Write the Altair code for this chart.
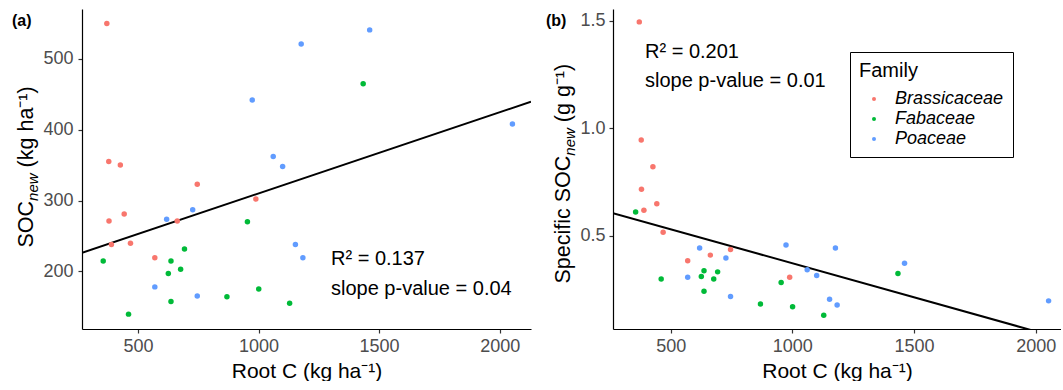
import altair as alt
import pandas as pd

# ---- data ----
family = (["Brassicaceae"] * 11) + (["Poaceae"] * 12) + (["Fabaceae"] * 12)
root_c = [371, 379, 427, 746, 989, 380, 443, 663, 469, 390, 570,
          1461, 1177, 974, 2053, 1061, 1100, 727, 619, 1153, 1184, 570, 746,
          1434, 954, 693, 356, 637, 677, 626, 1001, 869, 637, 1129, 461]
soc_new = [550, 355, 350, 323, 302, 271, 281, 271, 239.5, 238, 219,
           541, 521, 442, 408, 362, 348, 287, 273.5, 238, 219, 178, 165,
           465, 270, 231.5, 214.5, 214.5, 203, 197, 175, 164, 157.5, 155, 139.5]
specific_soc = [1.495, 0.945, 0.820, 0.435, 0.306, 0.716, 0.648, 0.409, 0.516, 0.618, 0.383,
                0.371, 0.442, 0.456, 0.196, 0.341, 0.314, 0.396, 0.442, 0.204, 0.177, 0.306, 0.216,
                0.323, 0.281, 0.331, 0.610, 0.336, 0.298, 0.309, 0.169, 0.181, 0.241, 0.129, 0.298]

# fitted lines (intercept, slope)
fit_a = [195.4, 0.1146]
fit_b = [0.688, -0.000317]

families = ["Brassicaceae", "Fabaceae", "Poaceae"]
palette = ["#F8766D", "#00BA38", "#619CFF"]
x_ticks = [500, 1000, 1500, 2000]
y_ticks_a = [200, 300, 400, 500]
y_ticks_b = [0.5, 1.0, 1.5]

df = pd.DataFrame({"Family": family, "RootC": root_c, "SOC": soc_new, "Spec": specific_soc})

FONT = "Liberation Sans"
W1, W2, H = 449, 448, 320
XDOM_A = [268, 2130]
XDOM_B = [263, 2104]
YDOM_A = [118.5, 570.5]
YDOM_B = [0.065, 1.555]
TS = 21.5   # axis-title font size
SS = 15     # subscript font size

color = alt.Color(
    "Family:N",
    scale=alt.Scale(domain=families, range=palette),
    legend=alt.Legend(
        orient="none", legendX=768, legendY=43,
        title="Family", titleFontSize=20, titleFont=FONT, titleFontWeight="normal",
        titleColor="black", titlePadding=9,
        labelFontSize=18, labelFont=FONT, labelFontStyle="italic", labelColor="black",
        symbolType="circle", symbolSize=16, symbolOffset=6, labelOffset=12,
        strokeColor="black", fillColor="white", padding=9, rowPadding=2,
    ),
)


def one(t):
    return pd.DataFrame({"t": [t]})


def txt(t, x, y, size=20, angle=0, style="normal", weight="normal", baseline="alphabetic"):
    return alt.Chart(one(t)).mark_text(
        align="left", baseline=baseline, font=FONT, fontSize=size, angle=angle,
        fontStyle=style, fontWeight=weight, color="black",
    ).encode(text="t:N", x=alt.value(x), y=alt.value(y))


x_axis = alt.Axis(values=x_ticks, format="d", title="Root C (kg ha\u207b\u00b9)",
                  labelPadding=4, titlePadding=5)

# ---- panel (a) ----
pts_a = alt.Chart(df).mark_circle(size=30, opacity=1).encode(
    x=alt.X("RootC:Q", scale=alt.Scale(domain=XDOM_A, nice=False, zero=False), axis=x_axis),
    y=alt.Y("SOC:Q", scale=alt.Scale(domain=YDOM_A, nice=False, zero=False),
            axis=alt.Axis(values=y_ticks_a, format="d", title=None, labelPadding=5)),
    color=color,
)
line_a = alt.Chart(pd.DataFrame({"RootC": XDOM_A})).transform_calculate(
    SOC=f"{fit_a[0]} + {fit_a[1]} * datum.RootC"
).mark_line(color="black", strokeWidth=2, clip=True).encode(x="RootC:Q", y="SOC:Q")

panel_a = alt.layer(
    line_a, pts_a,
    txt("R\u00b2 = 0.137", 249, 256),
    txt("slope p-value = 0.04", 249, 286),
    txt("(a)", -70, 17, size=16, weight="bold"),
    txt("SOC", -49, 238.5, size=TS, angle=270),
    txt("new", -44, 191.9, size=SS, angle=270, style="italic"),
    txt("(kg ha\u207b\u00b9)", -49, 158.4, size=TS, angle=270),
).properties(width=W1, height=H)

# ---- panel (b) ----
pts_b = alt.Chart(df).mark_circle(size=30, opacity=1).encode(
    x=alt.X("RootC:Q", scale=alt.Scale(domain=XDOM_B, nice=False, zero=False), axis=x_axis),
    y=alt.Y("Spec:Q", scale=alt.Scale(domain=YDOM_B, nice=False, zero=False),
            axis=alt.Axis(values=y_ticks_b, format=".1f", title=None, labelPadding=4)),
    color=color,
)
line_b = alt.Chart(pd.DataFrame({"RootC": XDOM_B})).transform_calculate(
    Spec=f"{fit_b[0]} + {fit_b[1]} * datum.RootC"
).mark_line(color="black", strokeWidth=2, clip=True).encode(x="RootC:Q", y="Spec:Q")

panel_b = alt.layer(
    line_b, pts_b,
    txt("R\u00b2 = 0.201", 32, 49),
    txt("slope p-value = 0.01", 32, 78),
    txt("(b)", -67, 17, size=16, weight="bold"),
    txt("Specific SOC", -43.5, 274.5, size=TS, angle=270),
    txt("new", -38.5, 146.7, size=SS, angle=270, style="italic"),
    txt("(g g\u207b\u00b9)", -43.5, 113.2, size=TS, angle=270),
).properties(width=W2, height=H)

chart = alt.hconcat(panel_a, panel_b, spacing=15).properties(
    padding={"left": 12, "top": 9, "right": 0, "bottom": 0}
).configure_view(stroke=None).configure_axis(
    grid=False, domainColor="black", domainWidth=1.2, tickColor="#333333", tickWidth=1.2,
    tickSize=4, labelColor="#4D4D4D", labelFont=FONT, labelFontSize=18,
    titleFont=FONT, titleFontSize=21, titleFontWeight="normal", titleColor="black",
)

chart.save("out.html", embed_options={"renderer": "svg", "actions": False})
